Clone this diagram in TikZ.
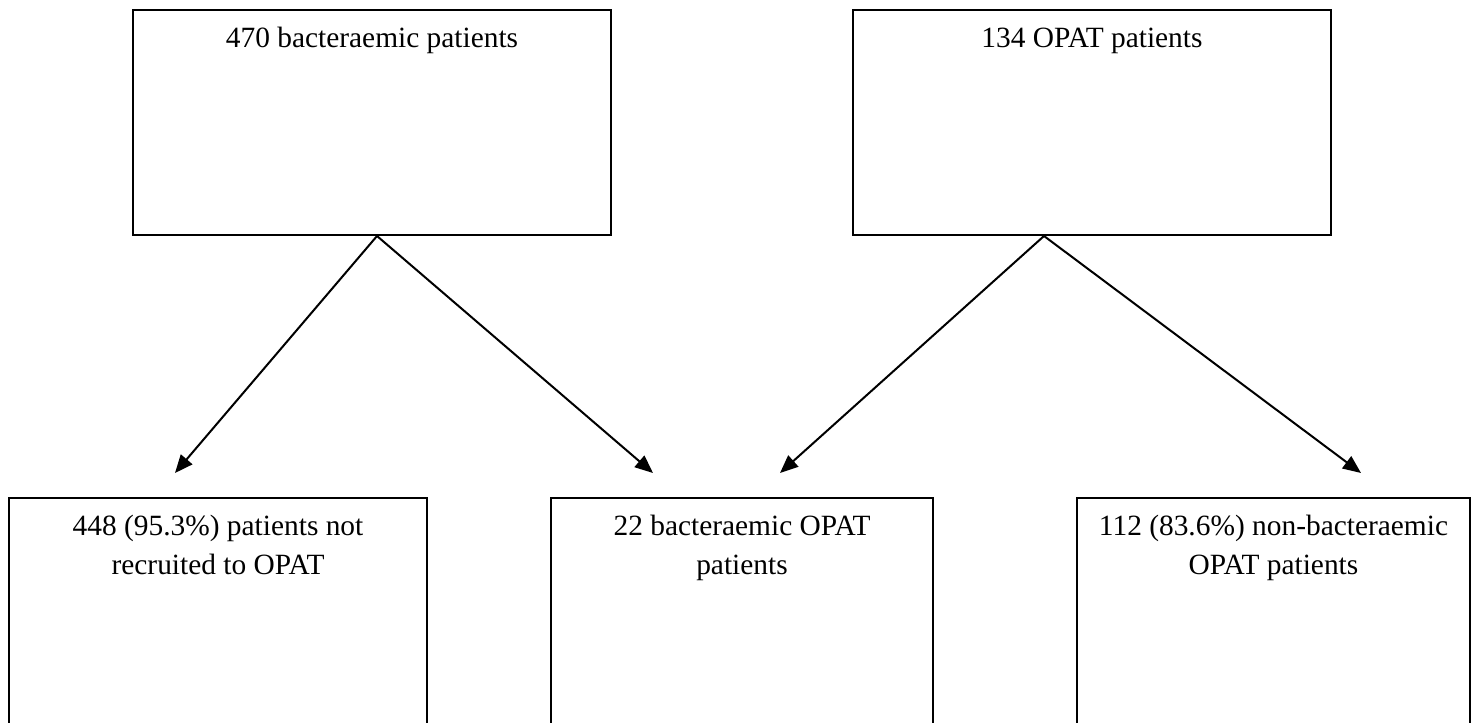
\documentclass[tikz,border=0pt]{standalone}
\usepackage{fontspec}
\setmainfont{Liberation Serif}
\usetikzlibrary{arrows.meta}
\tikzset{
  box/.style={draw=black, line width=1pt, inner sep=0pt, rectangle},
  topbox/.style={box, minimum width=239pt, minimum height=112.5pt},
  label/.style={anchor=base, align=center, inner sep=0pt, font=\fontsize{14.7}{19.5}\selectfont},
  flow/.style={line width=1pt, -{Triangle[length=9pt,width=7.5pt]}}
}
\begin{document}
\begin{tikzpicture}[x=0.5pt,y=-0.5pt]
\clip (0,0) rectangle (1476,722);
\fill[white] (0,0) rectangle (1476,722);
% top boxes
\node[topbox] (tl) at (372,122.5) {};
\node[topbox] (tr) at (1092,122.5) {};
% bottom boxes (open at the bottom edge of the picture)
\node[box, minimum width=209pt, minimum height=151pt] (bl) at (218,649) {};
\node[box, minimum width=191pt, minimum height=151pt] (bm) at (742,649) {};
\node[box, minimum width=196.5pt, minimum height=151pt] (br) at (1273.5,649) {};
% texts (base = baseline of the last line)
\node[label] (tltext) at (372,48) {470 bacteraemic patients};
\node[label] (trtext) at (1092,48) {134 OPAT patients};
\node[label] (bltext) at (218,574) {448 (95.3\%) patients not\\recruited to OPAT};
\node[label] (bmtext) at (742,574) {22 bacteraemic OPAT\\patients};
\node[label] (brtext) at (1273.5,574) {112 (83.6\%) non-bacteraemic\\OPAT patients};
% arrow end points
\coordinate (t1) at (175,473);
\coordinate (t2) at (653,473);
\coordinate (t3) at (780,473);
\coordinate (t4) at (1361,473);
% connectors
\draw[flow] ([xshift=2.5pt]tl.south) -- (t1);
\draw[flow] ([xshift=2.5pt]tl.south) -- (t2);
\draw[flow] ([xshift=-24pt]tr.south) -- (t3);
\draw[flow] ([xshift=-24pt]tr.south) -- (t4);
\end{tikzpicture}
\end{document}
